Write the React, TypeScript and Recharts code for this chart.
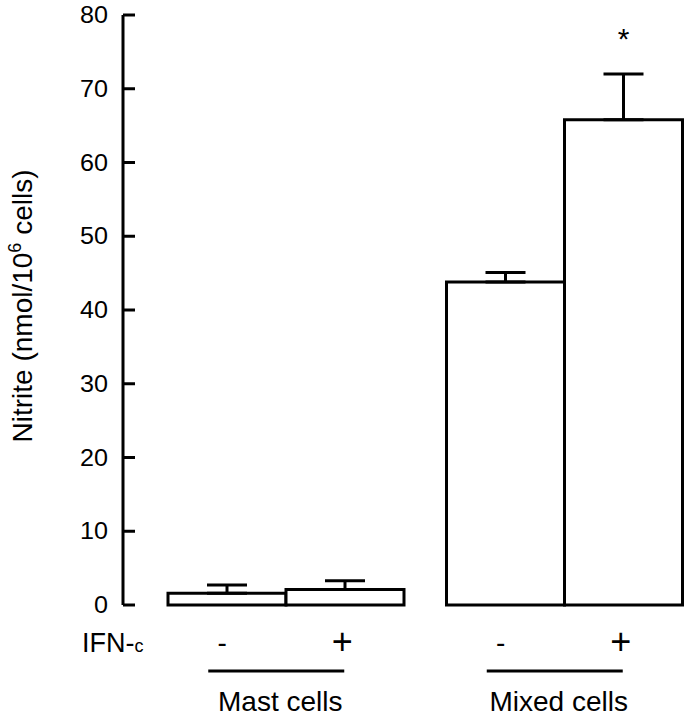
import React from 'react';
import { BarChart, Bar, XAxis, YAxis, ErrorBar, LabelList } from 'recharts';

const groups = ['Mast cells', 'Mixed cells'];
const withoutIfn = [1.6, 43.8];
const withIfn = [2.1, 65.8];
const withoutIfnSem = [1.1, 1.3];
const withIfnSem = [1.2, 6.2];
const significance = ['', '*'];
const yTicks = [0, 10, 20, 30, 40, 50, 60, 70, 80];

const FONT = '"Liberation Sans", Arial, Helvetica, sans-serif';

const chartData = groups.map((g, i) => ({
    group: g,
    minus: withoutIfn[i],
    plus: withIfn[i],
    // only the upper half of the SEM is drawn in the figure
    minusErr: [0, withoutIfnSem[i]],
    plusErr: [0, withIfnSem[i]],
    sig: significance[i],
}));

const YTick = (props: any) => {
    const { x, y, payload } = props;
    const label = String(payload.value);
    return (
        <g>
            <line x1={x} x2={x + 12} y1={y} y2={y} stroke="#000" strokeWidth={3} />
            <text
                x={x - 15}
                y={y + 8}
                textAnchor="end"
                fontFamily={FONT}
                fontSize={23}
                fill="#000"
                textLength={14 * label.length}
                lengthAdjust="spacingAndGlyphs"
            >
                {label}
            </text>
        </g>
    );
};

const GroupTick = (props: any) => {
    const { x, y, payload, index } = props;
    return (
        <g fontFamily={FONT} fill="#000">
            {index === 0 && (
                <text x={82} y={y + 47} fontSize={27}>
                    IFN-<tspan fontSize={18}>c</tspan>
                </text>
            )}
            <text x={x - 64} y={y + 47} fontSize={28} textAnchor="middle">-</text>
            <text x={x + 56} y={y + 49} fontSize={36} textAnchor="middle">+</text>
            <line x1={x - 78} x2={x + 58} y1={y + 66} y2={y + 66} stroke="#000" strokeWidth={3} />
            <text x={x - 6} y={y + 106} fontSize={28} textAnchor="middle">
                {payload.value}
            </text>
        </g>
    );
};

const YLabel = (props: any) => {
    const { viewBox } = props;
    const cx = 32;
    const cy = viewBox.y + viewBox.height / 2 - 4;
    return (
        <text
            x={cx}
            y={cy}
            transform={`rotate(-90, ${cx}, ${cy})`}
            textAnchor="middle"
            fontFamily={FONT}
            fontSize={28}
            fill="#000"
        >
            Nitrite (nmol/10<tspan dy={-11} fontSize={18}>6</tspan>
            <tspan dy={11}> cells)</tspan>
        </text>
    );
};

const renderStar = (props: any) => {
    const { x, y, width, value } = props;
    if (!value) return null;
    return (
        <text x={x + width / 2} y={y - 71} textAnchor="middle" fontFamily={FONT} fontSize={30} fill="#000">
            {value}
        </text>
    );
};

export default function App() {
    return (
        <div style={{ position: 'absolute', left: 0, top: 0, background: '#fff' }}>
            <BarChart
                width={685}
                height={718}
                data={chartData}
                margin={{ top: 15, right: 2, bottom: 0, left: 0 }}
                barCategoryGap={21}
                barGap={0}
            >
                <XAxis
                    dataKey="group"
                    height={113}
                    axisLine={false}
                    tickLine={false}
                    tickSize={0}
                    tickMargin={0}
                    padding={{ left: 24, right: -21 }}
                    tick={<GroupTick />}
                    interval={0}
                />
                <YAxis
                    width={123}
                    domain={[0, 80]}
                    ticks={yTicks}
                    interval={0}
                    tickLine={false}
                    tickSize={0}
                    tickMargin={0}
                    axisLine={{ stroke: '#000', strokeWidth: 3 }}
                    tick={<YTick />}
                    label={<YLabel />}
                />
                <Bar dataKey="minus" fill="#fff" stroke="#000" strokeWidth={3} isAnimationActive={false}>
                    <ErrorBar dataKey="minusErr" width={20} stroke="#000" strokeWidth={3} direction="y" />
                </Bar>
                <Bar dataKey="plus" fill="#fff" stroke="#000" strokeWidth={3} isAnimationActive={false}>
                    <ErrorBar dataKey="plusErr" width={20} stroke="#000" strokeWidth={3} direction="y" />
                    <LabelList dataKey="sig" content={renderStar} />
                </Bar>
            </BarChart>
        </div>
    );
}
